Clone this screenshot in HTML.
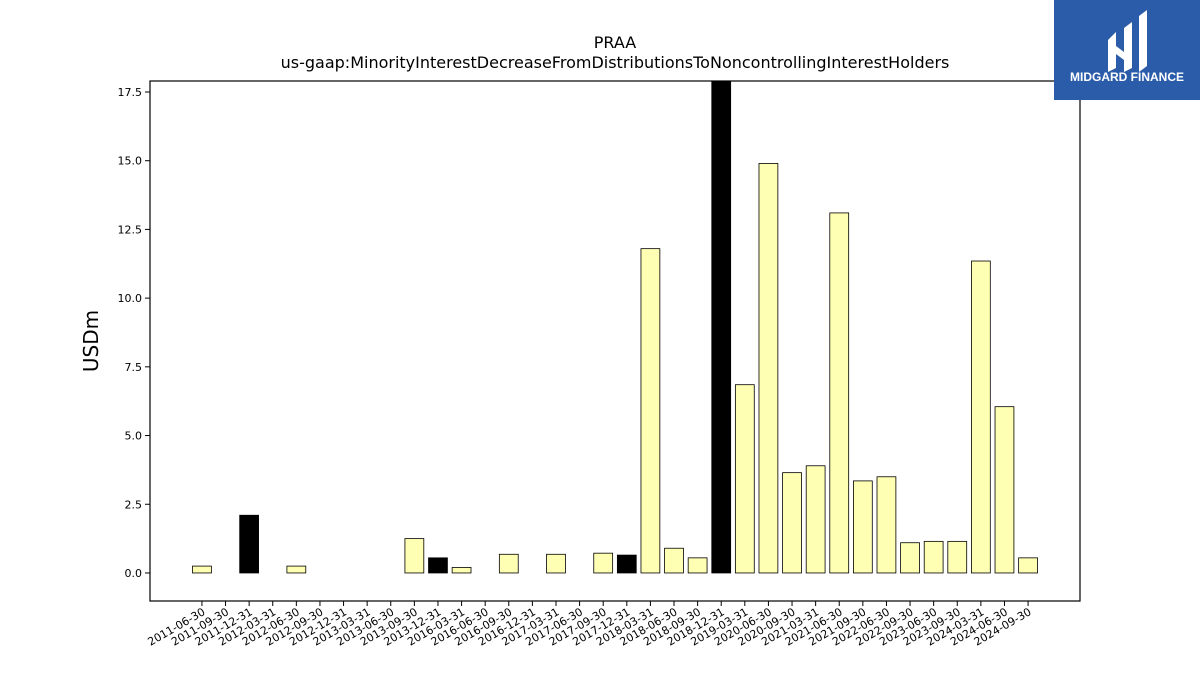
<!DOCTYPE html>
<html><head><meta charset="utf-8"><style>
body{margin:0;background:#fff;font-family:"DejaVu Sans","Liberation Sans",sans-serif}
</style></head><body>
<svg id="chart" width="1200" height="675" xmlns="http://www.w3.org/2000/svg" style="display:block">
<text x="615" y="48" text-anchor="middle" font-size="16">PRAA</text>
<text x="615" y="68" text-anchor="middle" font-size="16">us-gaap:MinorityInterestDecreaseFromDistributionsToNoncontrollingInterestHolders</text>
<text transform="translate(98,341) rotate(-90)" text-anchor="middle" font-size="20">USDm</text>
<g id="bars"></g>
<g id="yticks"></g>
<g id="xticks"></g>
<rect x="150" y="81" width="930" height="520" fill="none" stroke="#000" stroke-width="1.2"/>
<g>
<rect x="1054" y="0" width="146" height="100" fill="#2a5caa"/>
<path d="M1108 40 L1116 32 L1116 68 L1108 72 Z M1124 28 L1132 22 L1132 68 L1124 72 Z M1139 16 L1147 10 L1147 66 L1139 72 Z M1116 46 L1124 52 L1132 46 L1132 54 L1124 60 L1116 54 Z" fill="#fff"/>
<text x="1127" y="81" text-anchor="middle" font-size="12" font-weight="bold" fill="#fff" font-family="Liberation Sans,sans-serif">MIDGARD FINANCE</text>
</g>
</svg>
<script>
const categories=["2011-06-30","2011-09-30","2011-12-31","2012-03-31","2012-06-30","2012-09-30","2012-12-31","2013-03-31","2013-06-30","2013-09-30","2013-12-31","2016-03-31","2016-06-30","2016-09-30","2016-12-31","2017-03-31","2017-06-30","2017-09-30","2017-12-31","2018-03-31","2018-06-30","2018-09-30","2018-12-31","2019-03-31","2020-06-30","2020-09-30","2021-03-31","2021-06-30","2021-09-30","2022-06-30","2022-09-30","2023-06-30","2023-09-30","2024-03-31","2024-06-30","2024-09-30"];
const values=[0.25,0,2.1,0,0.25,0,0,0,0,1.25,0.55,0.2,0,0.68,0,0.68,0,0.72,0.65,11.8,0.9,0.55,17.9,6.85,14.9,3.65,3.9,13.1,3.35,3.5,1.1,1.15,1.15,11.35,6.05,0.55];
const highlighted=[0,0,1,0,0,0,0,0,0,0,1,0,0,0,0,0,0,0,1,0,0,0,1,0,0,0,0,0,0,0,0,0,0,0,0,0];
const yTicks=[0,2.5,5,7.5,10,12.5,15,17.5];
const yTickLabels=["0.0","2.5","5.0","7.5","10.0","12.5","15.0","17.5"];
const NS="http://www.w3.org/2000/svg";
const yMin=-1.02,yMax=17.9,pT=81,pB=601,pL=150,pR=1080;
const y=v=>pB-(v-yMin)/(yMax-yMin)*(pB-pT);
const n=categories.length;
const step=(pR-pL)/(n-1+4.4);
const x=i=>pL+step*(2.2+i);
const bw=step*0.8;
const bars=document.getElementById('bars');
values.forEach((v,i)=>{
 const r=document.createElementNS(NS,'rect');
 
 
 r.setAttribute('x',x(i)-bw/2);
 const top=Math.max(y(v),pT);
 r.setAttribute('y',Math.min(top,y(0)));
 r.setAttribute('width',bw);
 r.setAttribute('height',Math.abs(y(0)-top));
 r.setAttribute('fill',highlighted[i]?'#000':'#ffffb3');
 r.setAttribute('stroke','#000');r.setAttribute('stroke-width','0.8');
 bars.appendChild(r);
});
const yt=document.getElementById('yticks');
yTicks.forEach((t,i)=>{
 const l=document.createElementNS(NS,'line');
 
 
 l.setAttribute('x1',pL-5);l.setAttribute('x2',pL);l.setAttribute('y1',y(t));l.setAttribute('y2',y(t));l.setAttribute('stroke','#000');
 yt.appendChild(l);
 const tx=document.createElementNS(NS,'text');
 
 
 tx.setAttribute('x',pL-8);tx.setAttribute('y',y(t)+4);tx.setAttribute('text-anchor','end');tx.setAttribute('font-size','11');
 tx.textContent=yTickLabels[i];yt.appendChild(tx);
});
const xt=document.getElementById('xticks');
categories.forEach((c,i)=>{
 const l=document.createElementNS(NS,'line');
 
 
 l.setAttribute('x1',x(i));l.setAttribute('x2',x(i));l.setAttribute('y1',pB);l.setAttribute('y2',pB+5);l.setAttribute('stroke','#000');
 xt.appendChild(l);
 const tx=document.createElementNS(NS,'text');
 
 
 tx.setAttribute('transform','translate('+(x(i)+4)+','+(pB+13)+') rotate(-30)');
 tx.setAttribute('text-anchor','end');tx.setAttribute('font-size','11');
 tx.textContent=c;xt.appendChild(tx);
});
</script>
</body></html>
